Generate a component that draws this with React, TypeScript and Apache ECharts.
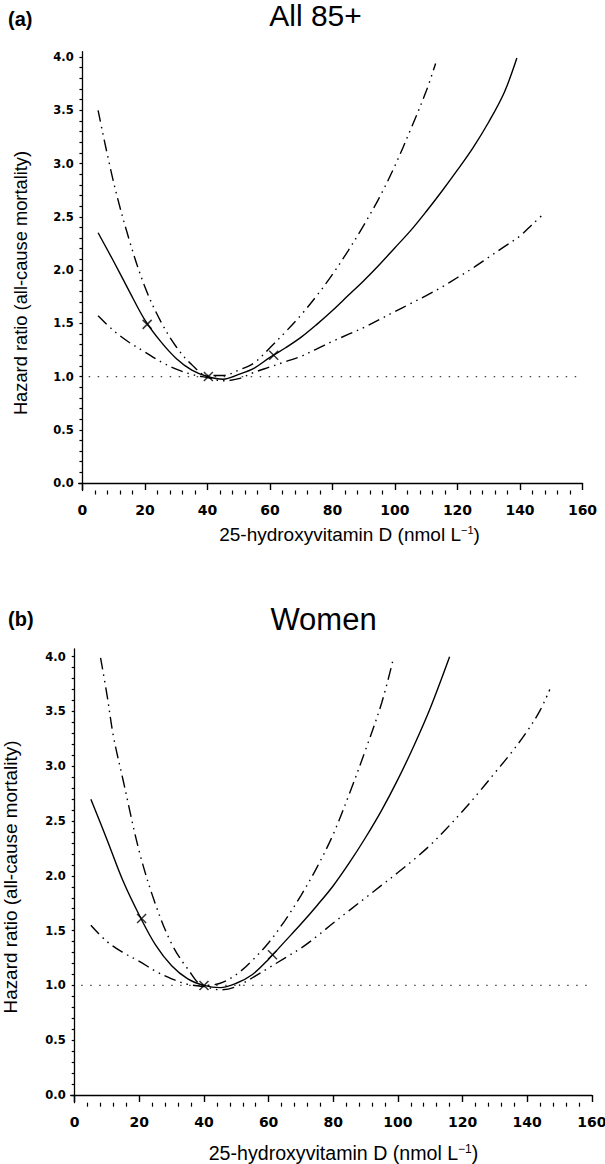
import React, { useEffect, useRef } from "react";
import * as echarts from "echarts";

// ---------- Data ----------
// Panel (a): All 85+
const aEstX = [5, 10, 15, 20, 25, 30, 35, 40, 45, 50, 55, 60, 65, 70, 75, 80, 85, 90, 95, 100, 105, 110, 115, 120, 125, 130, 135, 139];
const aEstY = [2.35, 2.08, 1.8, 1.53, 1.33, 1.17, 1.06, 1.0, 0.975, 1.02, 1.08, 1.18, 1.27, 1.37, 1.49, 1.62, 1.76, 1.9, 2.05, 2.21, 2.37, 2.55, 2.74, 2.94, 3.15, 3.39, 3.67, 3.99];
const aUpX = [5, 10, 15, 20, 25, 30, 35, 40, 45, 50, 55, 60, 65, 70, 75, 80, 85, 90, 95, 100, 105, 110, 113];
const aUpY = [3.5, 2.82, 2.28, 1.84, 1.52, 1.28, 1.11, 1.01, 1.01, 1.06, 1.13, 1.27, 1.42, 1.58, 1.76, 1.96, 2.18, 2.42, 2.68, 2.98, 3.32, 3.68, 3.94];
const aLoX = [5, 10, 15, 20, 25, 30, 35, 40, 45, 50, 55, 60, 65, 70, 75, 80, 85, 90, 95, 100, 105, 110, 115, 120, 125, 130, 135, 140, 144, 148];
const aLoY = [1.57, 1.43, 1.32, 1.23, 1.14, 1.07, 1.02, 0.99, 0.96, 0.98, 1.04, 1.09, 1.14, 1.19, 1.26, 1.33, 1.395, 1.46, 1.535, 1.61, 1.685, 1.76, 1.84, 1.93, 2.02, 2.12, 2.22, 2.32, 2.43, 2.54];
const aMarkX = [20.7, 40.3, 61.2];
const aMarkY = [1.49, 1.0, 1.2];

// Panel (b): Women
const bEstX = [5, 10, 15, 20, 25, 30, 35, 40, 45, 50, 55, 60, 65, 70, 75, 80, 85, 90, 95, 100, 105, 110, 116];
const bEstY = [2.7, 2.33, 1.95, 1.64, 1.37, 1.18, 1.06, 1.0, 0.98, 1.02, 1.1, 1.24, 1.4, 1.56, 1.73, 1.91, 2.12, 2.35, 2.6, 2.88, 3.19, 3.53, 4.0];
const bUpX = [8, 10, 12, 15, 20, 25, 30, 35, 40, 45, 50, 55, 60, 65, 70, 75, 80, 85, 90, 95, 98.5];
const bUpY = [3.99, 3.65, 3.27, 2.87, 2.22, 1.74, 1.38, 1.15, 1.0, 1.02, 1.1, 1.23, 1.39, 1.59, 1.82, 2.08, 2.38, 2.75, 3.15, 3.58, 3.97];
const bLoX = [5, 10, 15, 20, 25, 30, 35, 40, 45, 50, 55, 60, 65, 70, 75, 80, 85, 90, 95, 100, 105, 110, 115, 120, 125, 130, 135, 140, 144, 147];
const bLoY = [1.55, 1.4, 1.3, 1.22, 1.13, 1.06, 1.01, 0.99, 0.96, 0.99, 1.07, 1.16, 1.25, 1.34, 1.45, 1.57, 1.685, 1.8, 1.915, 2.03, 2.15, 2.28, 2.43, 2.59, 2.76, 2.94, 3.12, 3.32, 3.51, 3.7];
const bMarkX = [20.7, 40.0, 61.2];
const bMarkY = [1.61, 1.0, 1.28];

// Reference line HR = 1
const refX = [2, 160];
const refY = [1, 1];

// Ticks
const xMajorTicks = [0, 20, 40, 60, 80, 100, 120, 140, 160];
const xMinorTicks = [4, 8, 12, 16, 24, 28, 32, 36, 44, 48, 52, 56, 64, 68, 72, 76, 84, 88, 92, 96, 104, 108, 112, 116, 124, 128, 132, 136, 144, 148, 152, 156];
const yTicks = [0, 0.1, 0.2, 0.3, 0.4, 0.5, 0.6, 0.7, 0.8, 0.9, 1.0, 1.1, 1.2, 1.3, 1.4, 1.5, 1.6, 1.7, 1.8, 1.9, 2.0, 2.1, 2.2, 2.3, 2.4, 2.5, 2.6, 2.7, 2.8, 2.9, 3.0, 3.1, 3.2, 3.3, 3.4, 3.5, 3.6, 3.7, 3.8, 3.9, 4.0];
const yLabels = [0, 0.5, 1.0, 1.5, 2.0, 2.5, 3.0, 3.5, 4.0];

const panelTitles = ["All 85+", "Women"];
const panelLetters = ["(a)", "(b)"];
const xTitle = "25-hydroxyvitamin D (nmol L";
const xTitleSup = "\u22121";
const yTitle = "Hazard ratio (all-cause mortality)";

const zip = (xs: number[], ys: number[]) => xs.map((x, i) => [x, ys[i]]);

const CI_DASH = [12, 5, 1.5, 5, 1.5, 5];

function buildAxes(gridIndex: number, xMin: number, yMin: number, yMax: number) {
  const tickFont = { fontFamily: "DejaVu Sans", fontWeight: "bold" as const, color: "#000" };
  const xMain = {
    type: "value",
    gridIndex,
    position: "bottom",
    min: xMin,
    max: 160,
    axisLine: { show: true, lineStyle: { color: "#000", width: 1.3 } },
    axisTick: { show: true, customValues: xMajorTicks, length: 7, lineStyle: { color: "#000", width: 1.4 } },
    axisLabel: { show: true, customValues: xMajorTicks, fontSize: 14, margin: 12, ...tickFont },
    splitLine: { show: false },
  };
  const xMinor = {
    type: "value",
    gridIndex,
    position: "bottom",
    min: xMin,
    max: 160,
    axisLine: { show: false },
    axisTick: { show: true, customValues: xMinorTicks, length: 4, lineStyle: { color: "#000", width: 1.2 } },
    axisLabel: { show: false },
    splitLine: { show: false },
  };
  const y = {
    type: "value",
    gridIndex,
    position: "left",
    min: yMin,
    max: yMax,
    axisLine: { show: true, lineStyle: { color: "#000", width: 1.3 } },
    axisTick: { show: true, customValues: yTicks, length: 3, lineStyle: { color: "#000", width: 1.2 } },
    axisLabel: {
      show: true,
      customValues: yLabels,
      fontSize: 11.5,
      margin: 5,
      formatter: (v: number) => v.toFixed(1),
      ...tickFont,
    },
    splitLine: { show: false },
  };
  return { xs: [xMain, xMinor], y };
}

function buildSeries(
  idx: number,
  est: number[][],
  up: number[][],
  lo: number[][],
  marks: number[][]
) {
  const base = { type: "line", xAxisIndex: idx * 2, yAxisIndex: idx, showSymbol: false, symbol: "none", silent: true };
  return [
    {
      ...base,
      name: "ref" + idx,
      data: zip(refX, refY),
      lineStyle: { color: "#444", width: 1.2, type: [1.5, 7.5] },
    },
    {
      ...base,
      name: "upper" + idx,
      data: up,
      smooth: 0.35,
      lineStyle: { color: "#000", width: 1.4, type: CI_DASH },
    },
    {
      ...base,
      name: "lower" + idx,
      data: lo,
      smooth: 0.35,
      lineStyle: { color: "#000", width: 1.4, type: CI_DASH },
    },
    {
      ...base,
      name: "estimate" + idx,
      data: est,
      smooth: 0.35,
      lineStyle: { color: "#000", width: 1.4, type: "solid" },
    },
    {
      type: "scatter",
      name: "marks" + idx,
      xAxisIndex: idx * 2,
      yAxisIndex: idx,
      data: marks,
      symbol: "path://M0,0L10,10M10,0L0,10",
      symbolSize: 9,
      itemStyle: { color: "transparent", borderColor: "#000", borderWidth: 1.5 },
      z: 5,
      silent: true,
    },
  ];
}

export default function App() {
  const ref = useRef<HTMLDivElement>(null);

  useEffect(() => {
    if (!ref.current) return;
    const chart = echarts.init(ref.current, null, { renderer: "svg" });

    const axA = buildAxes(0, -1.2, -0.07, 4.05);
    const axB = buildAxes(1, -1.24, -0.07, 4.07);

    const titleFont = "Liberation Sans, Arial, sans-serif";
    const textEl = (
      text: string,
      x: number,
      y: number,
      size: number,
      weight: string,
      align: string,
      vAlign = "middle",
      rotation = 0
    ) => ({
      type: "text",
      x,
      y,
      rotation,
      silent: true,
      style: {
        text,
        fontFamily: titleFont,
        fontSize: size,
        fontWeight: weight,
        fill: "#000",
        align,
        verticalAlign: vAlign,
        textAlign: align,
        textVerticalAlign: vAlign,
      },
    });

    const xTitleEl = (x: number, y: number, size: number) => ({
      type: "text",
      x,
      y,
      silent: true,
      style: {
        text: xTitle + "{sup|" + xTitleSup + "})",
        fontFamily: titleFont,
        fontSize: size,
        fill: "#000",
        align: "center",
        verticalAlign: "middle",
        textAlign: "center",
        textVerticalAlign: "middle",
        rich: {
          sup: {
            fontFamily: titleFont,
            fontSize: Math.round(size * 0.6),
            verticalAlign: "top",
            fill: "#000",
          },
        },
      },
    });

    chart.setOption({
      animation: false,
      backgroundColor: "#fff",
      grid: [
        { left: 78.7, right: 22.5, top: 51.7, bottom: 673.5, containLabel: false, outerBoundsMode: "none" },
        { left: 70.7, right: 13.2, top: 649, bottom: 61.3, containLabel: false, outerBoundsMode: "none" },
      ],
      xAxis: [...axA.xs, ...axB.xs],
      yAxis: [axA.y, axB.y],
      series: [
        ...buildSeries(0, zip(aEstX, aEstY), zip(aUpX, aUpY), zip(aLoX, aLoY), zip(aMarkX, aMarkY)),
        ...buildSeries(1, zip(bEstX, bEstY), zip(bUpX, bUpY), zip(bLoX, bLoY), zip(bMarkX, bMarkY)),
      ],
      graphic: [
        textEl(panelLetters[0], 8, 19, 20, "bold", "left"),
        textEl(panelTitles[0], 315.5, 0, 30, "normal", "center", "top"),
        textEl(yTitle, 20, 283, 18.3, "normal", "center", "middle", Math.PI / 2),
        xTitleEl(349.5, 534, 19),
        textEl(panelLetters[1], 8, 619, 20, "bold", "left"),
        textEl(panelTitles[1], 323.5, 619, 31, "normal", "center"),
        textEl(yTitle, 10, 877, 18.9, "normal", "center", "middle", Math.PI / 2),
        xTitleEl(343.5, 1153, 19.6),
      ],
    });

    return () => {
      chart.dispose();
    };
  }, []);

  return (
    <div
      ref={ref}
      style={{ position: "absolute", left: 0, top: 0, width: 605, height: 1164, background: "#fff" }}
    />
  );
}
